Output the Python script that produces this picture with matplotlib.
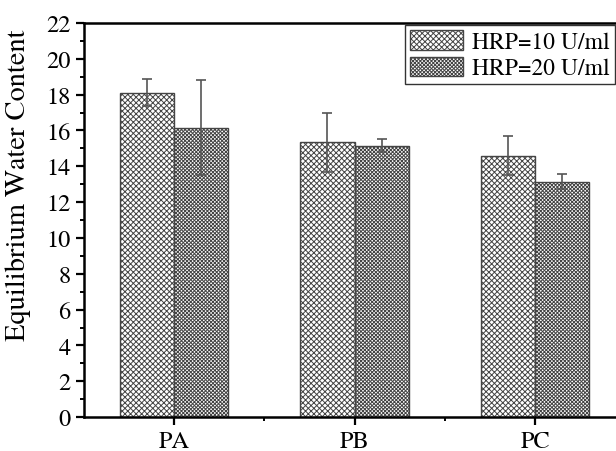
import numpy as np
import matplotlib.pyplot as plt

plt.rcParams['font.family'] = ['TeX Gyre Termes', 'Liberation Serif', 'DejaVu Serif']
plt.rcParams['hatch.linewidth'] = 0.7

# data
categories = ['PA', 'PB', 'PC']
series_names = ['HRP=10 U/ml', 'HRP=20 U/ml']
hrp10 = [18.1, 15.35, 14.6]
hrp10_err = [0.75, 1.65, 1.1]
hrp20 = [16.15, 15.15, 13.15]
hrp20_err = [2.65, 0.35, 0.4]

x = np.arange(len(categories))
w = 0.3

fig = plt.figure(figsize=(6.16, 4.52), dpi=100)
ax = fig.add_axes([0.136, 0.075, 0.879, 0.872])

ekw = dict(ecolor='#555555', elinewidth=1.2, capsize=3.5, capthick=1.2)
ax.bar(x - w/2, hrp10, w, yerr=hrp10_err, color='white', edgecolor='#444444',
       hatch='xxxxxx', linewidth=1.0, label=series_names[0], error_kw=ekw)
ax.bar(x + w/2, hrp20, w, yerr=hrp20_err, color='white', edgecolor='#444444',
       hatch='xxxxxxxxx', linewidth=1.0, label=series_names[1], error_kw=ekw)

ax.set_xlim(-0.5, 2.5)
ax.set_ylim(0, 22)
ax.set_yticks(np.arange(0, 23, 2))
ax.set_yticks(np.arange(0, 23, 1), minor=True)
ax.set_xticks(x)
ax.set_xticks([0.5, 1.5], minor=True)
ax.set_xticklabels(categories)
ax.tick_params(axis='both', which='major', labelsize=17.5, width=1.6, length=6)
ax.tick_params(axis='both', which='minor', width=1.4, length=3)
ax.set_ylabel('Equilibrium Water Content', fontsize=20.5)
ax.yaxis.set_label_coords(-0.097, 0.59)
for s in ax.spines.values():
    s.set_linewidth(1.8)

leg = ax.legend(loc='upper right', bbox_to_anchor=(0.985, 1.0), fontsize=17,
                frameon=True, fancybox=False, edgecolor='black',
                handlelength=2.25, handleheight=0.9, borderpad=0.2,
                labelspacing=0.15, handletextpad=0.4, borderaxespad=0.1)
leg.get_frame().set_linewidth(1.0)

fig.savefig('out.png', dpi=100)
